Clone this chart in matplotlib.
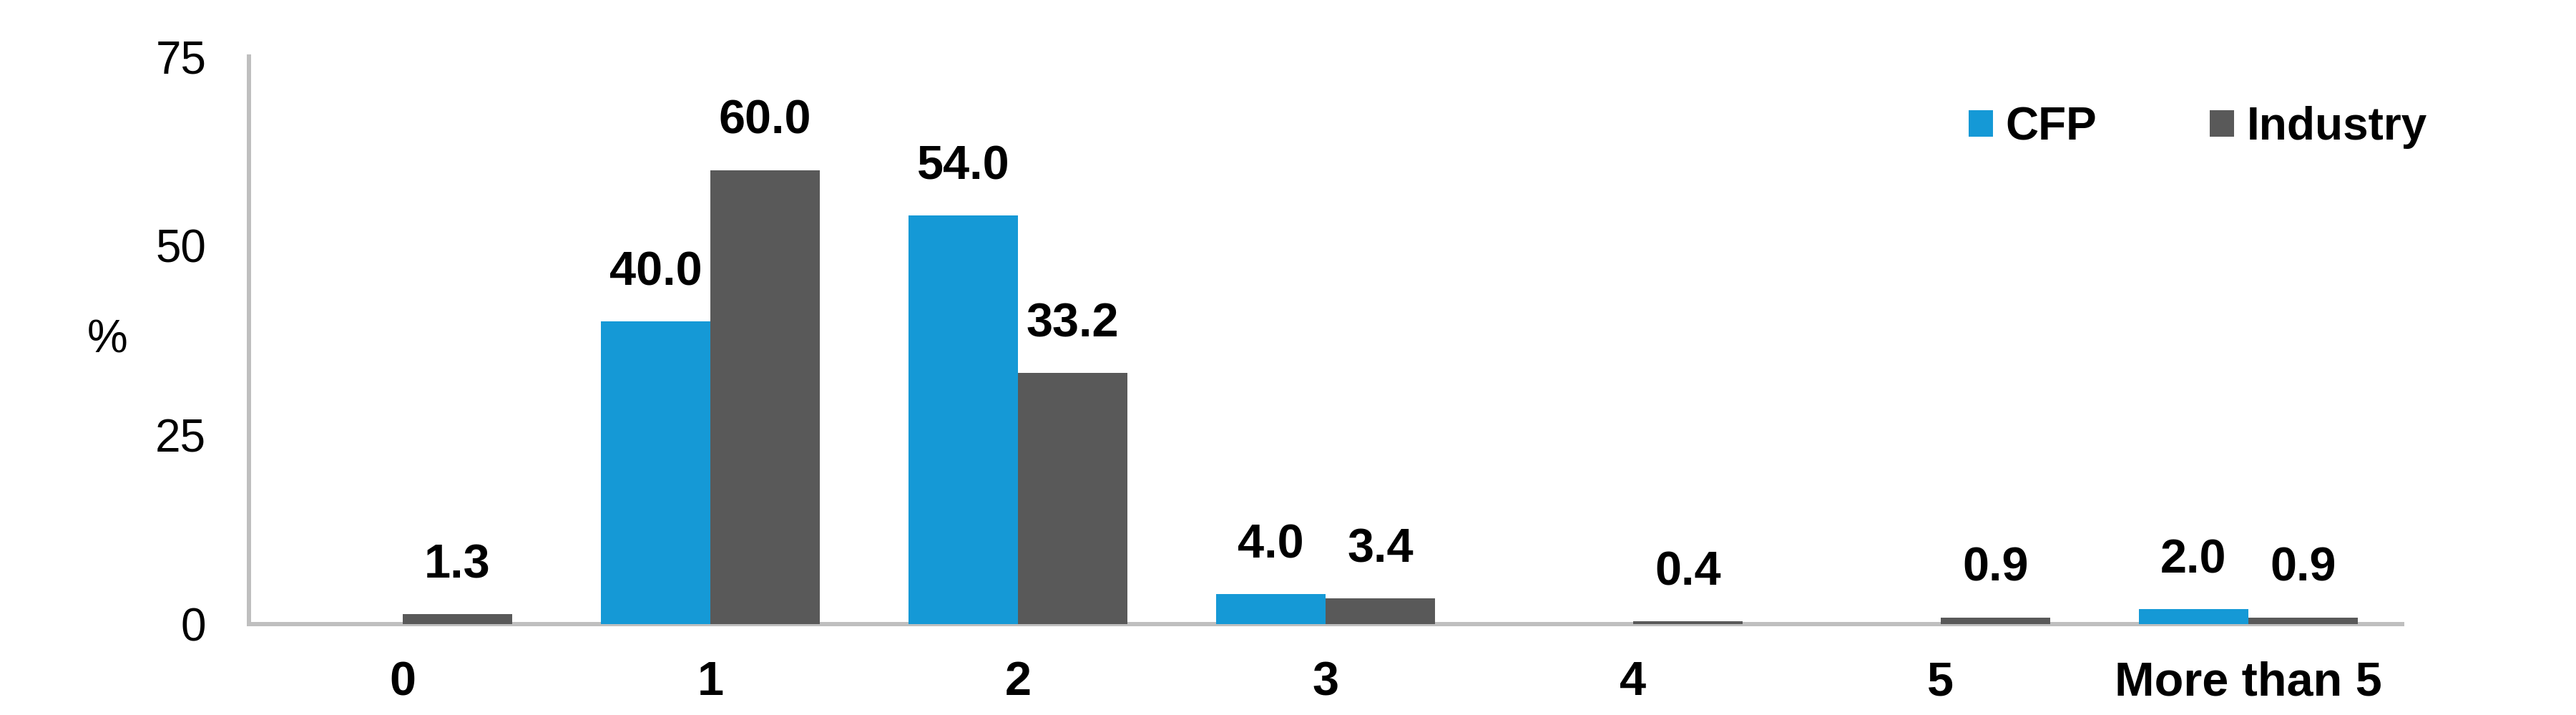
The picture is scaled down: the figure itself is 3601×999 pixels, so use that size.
"""
Number of ... : CFP vs Industry distribution (%)
"""

import numpy as np
import matplotlib
matplotlib.use("Agg")
import matplotlib.pyplot as plt

plt.rcParams["font.family"] = ["Liberation Sans", "DejaVu Sans"]

# ── data ──────────────────────────────────────────────────────────────────────
categories = ["0", "1", "2", "3", "4", "5", "More than 5"]
cfp        = [0.0, 40.0, 54.0, 4.0, 0.0, 0.0, 2.0]
industry   = [1.3, 60.0, 33.2, 3.4, 0.4, 0.9, 0.9]
y_ticks    = [0, 25, 50, 75]

BLUE = "#1599D6"
GREY = "#595959"
AXIS = "#BFBFBF"

# ── figure ────────────────────────────────────────────────────────────────────
fig = plt.figure(figsize=(36.01, 9.99), dpi=100)
ax = fig.add_axes([0.0966, 0.1271, 0.8359, 0.7938])

x = np.arange(len(categories))
w = 0.356
b1 = ax.bar(x - w / 2, cfp, w, color=BLUE, label="CFP", zorder=3)
b2 = ax.bar(x + w / 2, industry, w, color=GREY, label="Industry", zorder=3)

# value labels (skip empty bars)
for bars, vals in [(b1, cfp), (b2, industry)]:
    for rect, v in zip(bars, vals):
        if v == 0:
            continue
        ax.annotate(f"{v:.1f}",
                    xy=(rect.get_x() + rect.get_width() / 2, v),
                    xytext=(0, 36.5), textcoords="offset points",
                    ha="center", va="baseline",
                    fontsize=48, fontweight="bold", color="black")

ax.set_xlim(-0.5, len(categories) - 0.5)
ax.set_ylim(0, 75)
ax.set_yticks(y_ticks)
ax.set_xticks(x)
ax.set_xticklabels(categories, fontsize=48, fontweight="bold")
ax.tick_params(axis="y", length=0, pad=43, labelsize=46)
ax.tick_params(axis="x", length=0, pad=37)

ax.set_ylabel("%", fontsize=46, rotation=0, va="center", ha="center")
ax.yaxis.set_label_coords(-0.0658, 0.5)

for s in ["top", "right"]:
    ax.spines[s].set_visible(False)
for s in ["left", "bottom"]:
    ax.spines[s].set_color(AXIS)
    ax.spines[s].set_linewidth(4.3)

ax.legend(loc="center left", bbox_to_anchor=(0.7987, 0.875),
          ncol=2, frameon=False, borderpad=0, borderaxespad=0,
          handlelength=0.53, handleheight=0.53, handletextpad=0.27,
          columnspacing=2.48, prop={"size": 46, "weight": "bold"})

plt.savefig("out.png", dpi=100)
